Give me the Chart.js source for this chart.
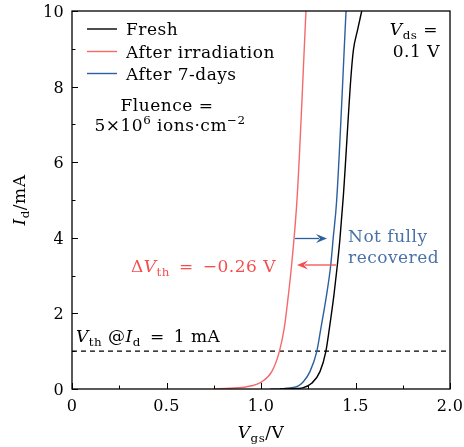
<!DOCTYPE html>
<html lang="en">
<head>
    <meta charset="UTF-8">
    <title>Id-Vgs</title>
    <script src="https://cdn.jsdelivr.net/npm/chart.js@4.4.0/dist/chart.umd.min.js"></script>
    <style>
        body { margin: 0; background: #fff; }
    </style>
</head>
<body>
    <canvas id="ivChart" width="464" height="447"></canvas>

    <script>
        // data (Vgs in V, Id in mA)
        const vgsFresh = [1.10, 1.17, 1.22, 1.268, 1.312, 1.343, 1.362, 1.386, 1.404, 1.418, 1.436, 1.476, 1.489, 1.511, 1.533];
        const idFresh  = [0, 0.01, 0.03, 0.15, 0.46, 0.99, 1.61, 2.49, 3.28, 3.99, 5.13, 8.26, 8.97, 9.5, 10];

        const vgsIrr = [0.75, 0.836, 0.924, 1.004, 1.057, 1.097, 1.123, 1.145, 1.162, 1.192, 1.238];
        const idIrr  = [0, 0.02, 0.06, 0.19, 0.46, 0.99, 1.61, 2.49, 3.28, 5.13, 10];

        const vgs7d = [1.05, 1.12, 1.17, 1.20, 1.224, 1.259, 1.295, 1.317, 1.347, 1.369, 1.382, 1.4005, 1.45];
        const id7d  = [0, 0.01, 0.04, 0.09, 0.19, 0.46, 0.99, 1.61, 2.49, 3.28, 3.99, 5.0, 10];

        const seriesNames = ['Fresh', 'After irradiation', 'After 7-days'];
        const seriesColors = ['#000000', '#f46a6a', '#2c5f9e'];

        const thresholdId = 1;
        const xTicks = [0, 0.5, 1.0, 1.5, 2.0];
        const yTicks = [0, 2, 4, 6, 8, 10];

        const SERIF = '"DejaVu Serif", "Liberation Serif", serif';
        const EQ = '\u2002=\u2002';

        function toPoints(xs, ys) {
            return xs.map((x, i) => ({ x: x, y: ys[i] }));
        }

        // draws text made of parts: {t, it, sub, sup}
        function drawRich(ctx, parts, x, y, size, color, align, spacing) {
            ctx.letterSpacing = (spacing === undefined ? 0.5 : spacing) + 'px';
            const pieces = parts.map(p => {
                const fs = (p.sub || p.sup) ? size * 0.7 : size;
                const font = (p.it ? 'italic ' : '') + fs + 'px ' + SERIF;
                ctx.font = font;
                return { t: p.t, font: font, w: ctx.measureText(p.t).width, dy: p.sub ? size * 0.22 : (p.sup ? -size * 0.4 : 0) };
            });
            const total = pieces.reduce((s, p) => s + p.w, 0);
            let cx = x;
            if (align === 'center') cx = x - total / 2;
            if (align === 'right') cx = x - total;
            ctx.fillStyle = color;
            ctx.textAlign = 'left';
            ctx.textBaseline = 'alphabetic';
            pieces.forEach(p => {
                ctx.font = p.font;
                ctx.fillText(p.t, cx, y + p.dy);
                cx += p.w;
            });
            ctx.letterSpacing = '0px';
        }

        function arrow(ctx, x1, x2, y, color) {
            ctx.save();
            ctx.strokeStyle = color;
            ctx.fillStyle = color;
            ctx.lineWidth = 1.3;
            const dir = Math.sign(x2 - x1);
            ctx.beginPath();
            ctx.moveTo(x1, y);
            ctx.lineTo(x2 - dir * 8, y);
            ctx.stroke();
            ctx.beginPath();
            ctx.moveTo(x2, y);
            ctx.lineTo(x2 - dir * 11, y - 4.5);
            ctx.lineTo(x2 - dir * 7, y);
            ctx.lineTo(x2 - dir * 11, y + 4.5);
            ctx.closePath();
            ctx.fill();
            ctx.restore();
        }

        const framePlugin = {
            id: 'frame',
            afterDraw(chart) {
                const ctx = chart.ctx;
                const a = chart.chartArea;
                const xs = chart.scales.x;
                const ys = chart.scales.y;
                ctx.save();

                // inward ticks
                ctx.strokeStyle = '#000';
                ctx.lineWidth = 1;
                for (let v = 0; v <= 2.0001; v += 0.25) {
                    const px = Math.round(xs.getPixelForValue(v)) + 0.5;
                    const len = (Math.abs(v * 2 - Math.round(v * 2)) < 1e-6) ? 6 : 3.5;
                    ctx.beginPath();
                    ctx.moveTo(px, a.bottom);
                    ctx.lineTo(px, a.bottom - len);
                    ctx.stroke();
                }
                for (let v = 0; v <= 10; v += 1) {
                    const py = Math.round(ys.getPixelForValue(v)) + 0.5;
                    const len = (v % 2 === 0) ? 6 : 3.5;
                    ctx.beginPath();
                    ctx.moveTo(a.left, py);
                    ctx.lineTo(a.left + len, py);
                    ctx.stroke();
                }

                // frame
                ctx.lineWidth = 1.3;
                ctx.strokeRect(a.left, a.top, a.right - a.left, a.bottom - a.top);

                // tick labels
                xTicks.forEach(v => {
                    drawRich(ctx, [{ t: v === 0 ? '0' : v.toFixed(1) }], xs.getPixelForValue(v), 411, 16, '#000', 'center', 0.3);
                });
                yTicks.forEach(v => {
                    drawRich(ctx, [{ t: String(v) }], 64, ys.getPixelForValue(v) + 6, 16, '#000', 'right', 0.3);
                });

                // legend
                const legY = [29, 51.5, 73.5];
                [0, 1, 2].forEach(i => {
                    ctx.strokeStyle = seriesColors[i];
                    ctx.lineWidth = 1.4;
                    ctx.beginPath();
                    ctx.moveTo(87, legY[i]);
                    ctx.lineTo(117, legY[i]);
                    ctx.stroke();
                    drawRich(ctx, [{ t: seriesNames[i] }], 126, legY[i] + 6, 17, '#000', 'left');
                });

                // text annotations
                drawRich(ctx, [{ t: 'Fluence =' }], 167, 111, 17, '#000', 'center');
                drawRich(ctx, [{ t: '5×10' }, { t: '6', sup: true }, { t: ' ions·cm' }, { t: '−2', sup: true }], 170, 131, 17, '#000', 'center');
                drawRich(ctx, [{ t: 'V', it: true }, { t: 'ds', sub: true }, { t: ' =' }], 438, 35, 17, '#000', 'right');
                drawRich(ctx, [{ t: '0.1 V' }], 440, 57, 17, '#000', 'right');
                drawRich(ctx, [{ t: 'Not fully' }], 348, 242, 17, '#4a72a8', 'left');
                drawRich(ctx, [{ t: 'recovered' }], 348, 263, 17, '#4a72a8', 'left');
                drawRich(ctx, [{ t: 'Δ' }, { t: 'V', it: true }, { t: 'th', sub: true }, { t: EQ + '−0.26 V' }], 131, 272, 17, '#f44f4f', 'left');
                drawRich(ctx, [{ t: 'V', it: true }, { t: 'th', sub: true }, { t: ' @' }, { t: 'I', it: true }, { t: 'd', sub: true }, { t: EQ + '1 mA' }], 76, 342, 17, '#000', 'left');

                // arrows
                arrow(ctx, 295, 327, 238.5, '#2c5f9e');
                arrow(ctx, 336, 297, 265, '#f44f4f');

                // axis titles
                drawRich(ctx, [{ t: 'V', it: true }, { t: 'gs', sub: true }, { t: '/V' }], (a.left + a.right) / 2, 438, 17, '#000', 'center');
                ctx.translate(25, (a.top + a.bottom) / 2);
                ctx.rotate(-Math.PI / 2);
                drawRich(ctx, [{ t: 'I', it: true }, { t: 'd', sub: true }, { t: '/mA' }], 0, 0, 17, '#000', 'center');

                ctx.restore();
            }
        };

        const ctx = document.getElementById('ivChart').getContext('2d');
        new Chart(ctx, {
            type: 'scatter',
            data: {
                datasets: [
                    {
                        label: seriesNames[0],
                        data: toPoints(vgsFresh, idFresh),
                        borderColor: seriesColors[0],
                    },
                    {
                        label: seriesNames[1],
                        data: toPoints(vgsIrr, idIrr),
                        borderColor: seriesColors[1],
                    },
                    {
                        label: seriesNames[2],
                        data: toPoints(vgs7d, id7d),
                        borderColor: seriesColors[2],
                    },
                    {
                        label: 'threshold',
                        data: [{ x: xTicks[0], y: thresholdId }, { x: xTicks[xTicks.length - 1], y: thresholdId }],
                        borderColor: '#000',
                        borderDash: [5, 4],
                        borderWidth: 1.2,
                    }
                ]
            },
            options: {
                responsive: false,
                animation: false,
                events: [],
                layout: { padding: { top: 11, right: 14, left: 0, bottom: 0 } },
                elements: {
                    point: { radius: 0 },
                    line: { borderWidth: 1.4, cubicInterpolationMode: 'monotone', fill: false }
                },
                datasets: { scatter: { showLine: true } },
                plugins: {
                    legend: { display: false },
                    tooltip: { enabled: false }
                },
                scales: {
                    x: {
                        type: 'linear',
                        min: 0,
                        max: 2,
                        afterFit: s => { s.height = 58; },
                        grid: { display: false, drawTicks: false },
                        border: { display: false },
                        ticks: { display: false }
                    },
                    y: {
                        type: 'linear',
                        min: 0,
                        max: 10,
                        afterFit: s => { s.width = 72; },
                        grid: { display: false, drawTicks: false },
                        border: { display: false },
                        ticks: { display: false }
                    }
                }
            },
            plugins: [framePlugin]
        });
    </script>
</body>
</html>
